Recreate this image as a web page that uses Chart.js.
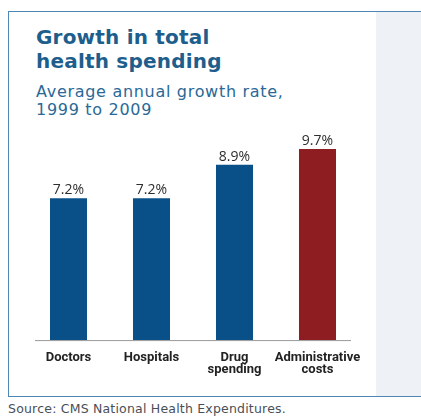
<!DOCTYPE html>
<html>
<head>
<meta charset="utf-8">
<script src="https://cdn.jsdelivr.net/npm/chart.js@4/dist/chart.umd.min.js"></script>
<style>
html,body{margin:0;padding:0;background:#fff;}
body{width:421px;height:416px;position:relative;overflow:hidden;font-family:"DejaVu Sans",sans-serif;}
#box{position:absolute;left:8px;top:11px;width:430px;height:386px;border:1.5px solid #4f86b4;box-sizing:border-box;}
#panel{position:absolute;left:376px;top:12px;width:60px;height:384px;background:#eef2f6;}
#title{position:absolute;left:36px;top:26px;font-weight:bold;font-size:20px;line-height:23.5px;letter-spacing:0.2px;color:#1d5e8c;}
#sub{position:absolute;left:36px;top:83px;font-size:16px;line-height:18px;letter-spacing:0.7px;color:#2a6996;}
#src{position:absolute;left:8px;top:401px;font-size:12.5px;letter-spacing:0.2px;color:#4a4f57;}
#c{position:absolute;left:0;top:0;}
</style>
</head>
<body>
<div id="box"></div>
<div id="panel"></div>
<div id="title">Growth in total<br>health spending</div>
<div id="sub">Average annual growth rate,<br>1999 to 2009</div>
<div id="src">Source: CMS National Health Expenditures.</div>
<canvas id="c" width="421" height="416"></canvas>
<script>
const categories = [["Doctors"], ["Hospitals"], ["Drug", "spending"], ["Administrative", "costs"]];
const growthRates = [7.2, 7.2, 8.9, 9.7];
const valueLabels = ["7.2%", "7.2%", "8.9%", "9.7%"];
const barColors = ["#0a5088", "#0a5088", "#0a5088", "#8d1d20"];

const valueLabelPlugin = {
  id: 'valueLabels',
  afterDatasetsDraw(chart) {
    const ctx = chart.ctx;
    const meta = chart.getDatasetMeta(0);
    ctx.save();
    ctx.font = '14px "Open Sans", sans-serif';
    ctx.fillStyle = '#2e2e2e';
    ctx.textAlign = 'center';
    ctx.textBaseline = 'bottom';
    meta.data.forEach((bar, i) => {
      ctx.fillText(valueLabels[i], bar.x, bar.y - 1);
    });
    const a = chart.chartArea;
    const y = chart.scales.y.getPixelForValue(0);
    ctx.strokeStyle = '#9a9a9a';
    ctx.lineWidth = 1;
    ctx.beginPath();
    ctx.moveTo(a.left + 8, y + 0.5);
    ctx.lineTo(a.right - 8, y + 0.5);
    ctx.stroke();
    ctx.restore();
  }
};

new Chart(document.getElementById('c'), {
  type: 'bar',
  data: {
    labels: categories,
    datasets: [{
      data: growthRates,
      backgroundColor: barColors,
      borderWidth: 0,
      categoryPercentage: 1,
      barPercentage: 0.446
    }]
  },
  options: {
    responsive: false,
    animation: false,
    layout: { padding: { top: 143, left: 27, right: 62, bottom: 28 } },
    plugins: { legend: { display: false }, tooltip: { enabled: false } },
    scales: {
      x: {
        grid: { display: false, drawTicks: false },
        border: { display: false },
        ticks: {
          padding: 12,
          color: '#222',
          font: { family: '"Liberation Sans Narrow", "Roboto", sans-serif', weight: 'bold', size: 13, lineHeight: 0.92 },
          maxRotation: 0, autoSkip: false
        }
      },
      y: { display: false, min: 0, max: 10 }
    }
  },
  plugins: [valueLabelPlugin]
});
</script>
</body>
</html>
